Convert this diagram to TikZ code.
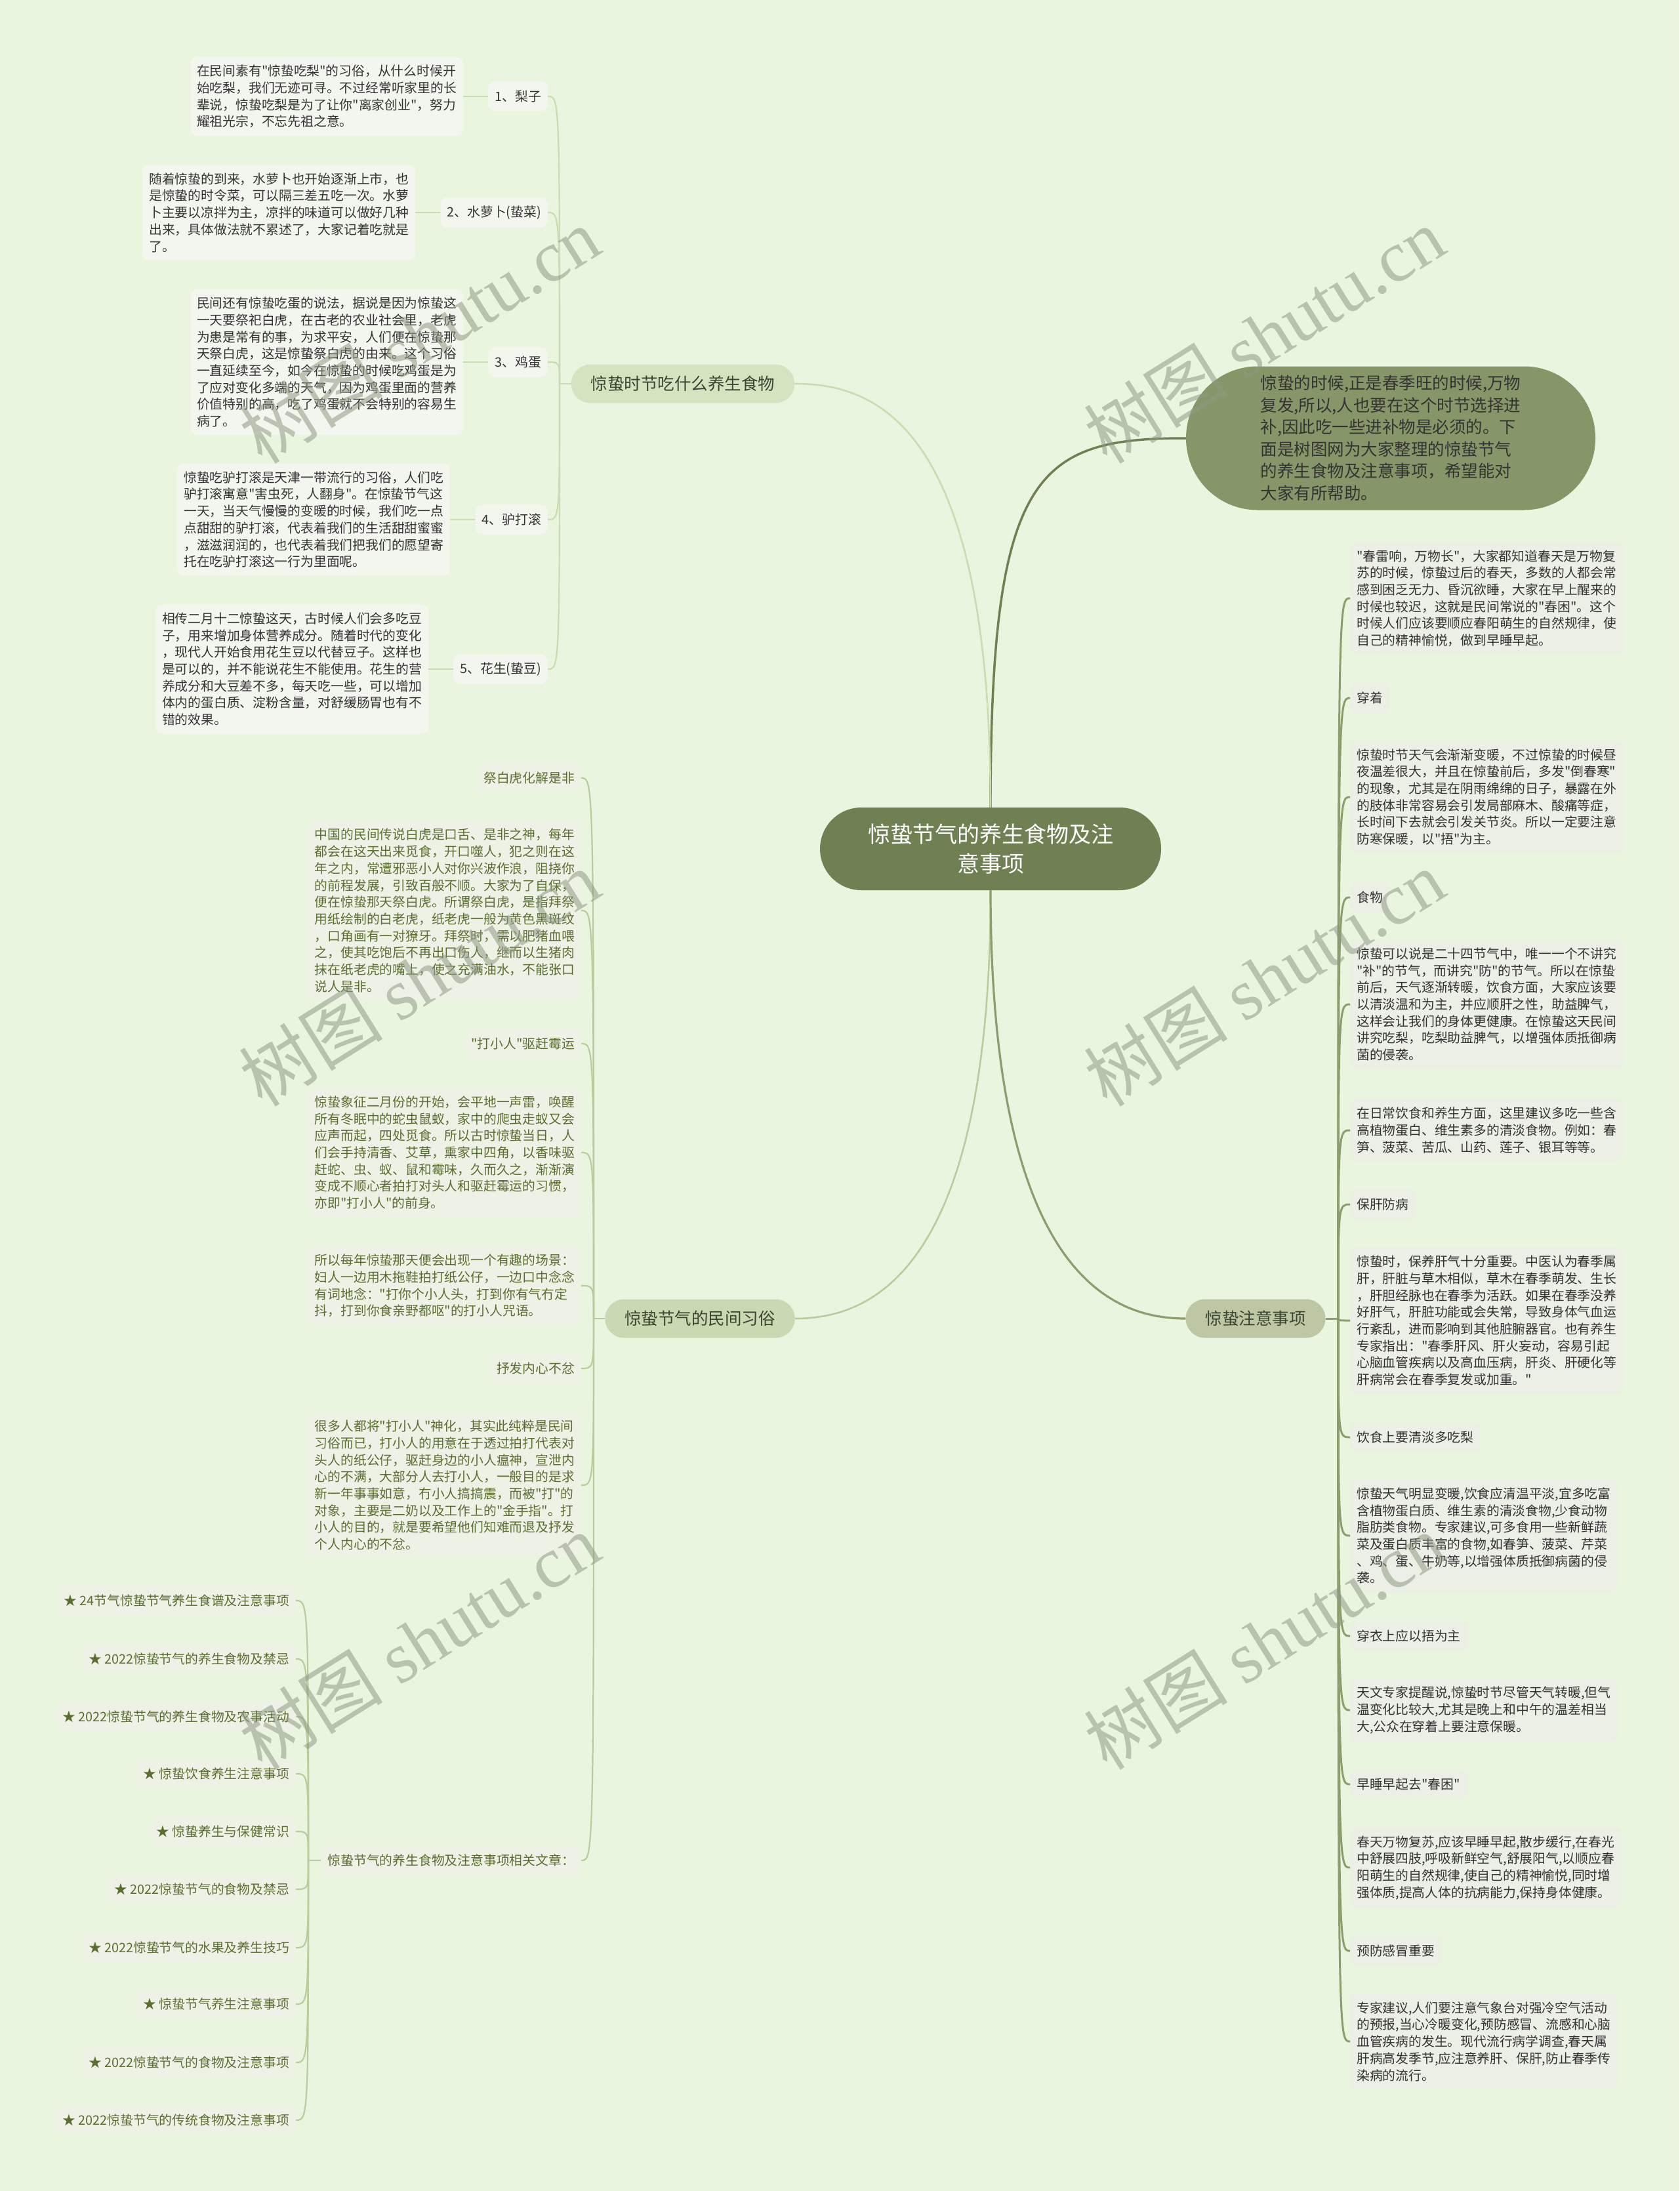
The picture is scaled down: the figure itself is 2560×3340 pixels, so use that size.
\documentclass[tikz,border=0pt]{standalone}
\usepackage{fontspec}
\setmainfont{Noto Sans CJK SC}[Ligatures=TeXOff]
\newfontfamily\wmlatin{Liberation Serif}
\usetikzlibrary{calc}
\definecolor{bgc}{HTML}{E9F5DE}
\definecolor{cnode}{HTML}{6F8053}
\definecolor{intro}{HTML}{879669}
\definecolor{brF}{HTML}{D4E3C0}
\definecolor{brC}{HTML}{CBD9B3}
\definecolor{brR}{HTML}{BDC7A4}
\definecolor{brtxt}{HTML}{3A4430}
\definecolor{leafL}{HTML}{F3F6EE}
\definecolor{leafC}{HTML}{EEF2E6}
\definecolor{leafR}{HTML}{ECEFE6}
\definecolor{txtD}{HTML}{333333}
\definecolor{txtO}{HTML}{5A6E30}
\definecolor{lnFc}{HTML}{CADCB2}
\definecolor{lnCc}{HTML}{B9CC9B}
\definecolor{lnRc}{HTML}{8D9D6E}
\definecolor{wmc}{HTML}{8F9A84}
\newcommand\fsmall{\fontsize{19.8pt}{25.7pt}\selectfont}
\newcommand\fbranch{\fontsize{25.5pt}{30pt}\selectfont}
\newcommand\fintro{\fontsize{25.5pt}{33.5pt}\selectfont}
\newcommand\fcenter{\fontsize{34pt}{45pt}\selectfont}
\newcommand\fwm{\fontsize{110pt}{110pt}\selectfont}
\tikzset{
  blk/.style={rounded corners=10pt, inner xsep=10pt, inner ysep=12pt, align=left, font=\fsmall},
  lbl/.style={rounded corners=10pt, inner xsep=10pt, inner ysep=0pt, minimum height=45pt, font=\fsmall},
  food/.style={fill=leafL, text=txtD},
  cust/.style={fill=leafC, text=txtO},
  rgt/.style={fill=leafR, text=txtD},
  branch/.style={rounded corners=29.5pt, inner xsep=30pt, inner ysep=0pt, minimum height=59pt, font=\fbranch, text=brtxt},
  lnF/.style={draw=lnFc, line width=2.2pt},
  lnC/.style={draw=lnCc, line width=2.2pt},
  lnR/.style={draw=lnRc, line width=3pt},
  wm/.style={text=wmc, opacity=0.55, font=\fwm, rotate=32, inner sep=0pt}
}
\begin{document}
\begin{tikzpicture}[x=1pt,y=-1pt]
\fill[bgc] (0,0) rectangle (2560,3340);
\useasboundingbox (0,0) rectangle (2560,3340);

% ---------- center and intro ----------
\node[fill=cnode, text=white, rounded corners=63pt, minimum width=520pt, minimum height=126pt, align=center, font=\fcenter, inner sep=0pt] (CN) at (1510,1294) {惊蛰节气的养生食物及注\\意事项};
\node[fill=intro, text=txtD, rounded corners=109pt, minimum width=624pt, minimum height=219pt, align=left, font=\fintro, inner sep=0pt] (IN) at (2120,668) {惊蛰的时候,正是春季旺的时候,万物\\复发,所以,人也要在这个时节选择进\\补,因此吃一些进补物是必须的。下\\面是树图网为大家整理的惊蛰节气\\的养生食物及注意事项，希望能对\\大家有所帮助。};

% ---------- branch nodes ----------
\node[branch, fill=brF] (BF) at (1041,585) {惊蛰时节吃什么养生食物};
\node[branch, fill=brC] (BC) at (1067,2010) {惊蛰节气的民间习俗};
\node[branch, fill=brR] (BR) at (1914,2010) {惊蛰注意事项};

% ---------- food items ----------
\node[lbl, food, anchor=east] (I1) at (835,147) {1、梨子};
\node[lbl, food, anchor=east] (I2) at (835,324) {2、水萝卜(蛰菜)};
\node[lbl, food, anchor=east] (I3) at (835,552) {3、鸡蛋};
\node[lbl, food, anchor=east] (I4) at (835,792) {4、驴打滚};
\node[lbl, food, anchor=east] (I5) at (835,1020) {5、花生(蛰豆)};

\node[blk, food, anchor=east] (B1) at ([xshift=-38pt]I1.west) {在民间素有"惊蛰吃梨"的习俗，从什么时候开\\始吃梨，我们无迹可寻。不过经常听家里的长\\辈说，惊蛰吃梨是为了让你"离家创业"，努力\\耀祖光宗，不忘先祖之意。};
\node[blk, food, anchor=east] (B2) at ([xshift=-38pt]I2.west) {随着惊蛰的到来，水萝卜也开始逐渐上市，也\\是惊蛰的时令菜，可以隔三差五吃一次。水萝\\卜主要以凉拌为主，凉拌的味道可以做好几种\\出来，具体做法就不累述了，大家记着吃就是\\了。};
\node[blk, food, anchor=east] (B3) at ([xshift=-38pt]I3.west) {民间还有惊蛰吃蛋的说法，据说是因为惊蛰这\\一天要祭祀白虎，在古老的农业社会里，老虎\\为患是常有的事，为求平安，人们便在惊蛰那\\天祭白虎，这是惊蛰祭白虎的由来。这个习俗\\一直延续至今，如今在惊蛰的时候吃鸡蛋是为\\了应对变化多端的天气，因为鸡蛋里面的营养\\价值特别的高，吃了鸡蛋就不会特别的容易生\\病了。};
\node[blk, food, anchor=east] (B4) at ([xshift=-38pt]I4.west) {惊蛰吃驴打滚是天津一带流行的习俗，人们吃\\驴打滚寓意"害虫死，人翻身"。在惊蛰节气这\\一天，当天气慢慢的变暖的时候，我们吃一点\\点甜甜的驴打滚，代表着我们的生活甜甜蜜蜜\\，滋滋润润的，也代表着我们把我们的愿望寄\\托在吃驴打滚这一行为里面呢。};
\node[blk, food, anchor=east] (B5) at ([xshift=-38pt]I5.west) {相传二月十二惊蛰这天，古时候人们会多吃豆\\子，用来增加身体营养成分。随着时代的变化\\，现代人开始食用花生豆以代替豆子。这样也\\是可以的，并不能说花生不能使用。花生的营\\养成分和大豆差不多，每天吃一些，可以增加\\体内的蛋白质、淀粉含量，对舒缓肠胃也有不\\错的效果。};

% ---------- customs ----------
\node[lbl, cust, anchor=east] (C1) at (886,1186) {祭白虎化解是非};
\node[blk, cust, anchor=east] (C2) at (886,1388) {中国的民间传说白虎是口舌、是非之神，每年\\都会在这天出来觅食，开口噬人，犯之则在这\\年之内，常遭邪恶小人对你兴波作浪，阻挠你\\的前程发展，引致百般不顺。大家为了自保，\\便在惊蛰那天祭白虎。所谓祭白虎，是指拜祭\\用纸绘制的白老虎，纸老虎一般为黄色黑斑纹\\，口角画有一对獠牙。拜祭时，需以肥猪血喂\\之，使其吃饱后不再出口伤人，继而以生猪肉\\抹在纸老虎的嘴上，使之充满油水，不能张口\\说人是非。};
\node[lbl, cust, anchor=east] (C3) at (886,1591) {"打小人"驱赶霉运};
\node[blk, cust, anchor=east] (C4) at (886,1757) {惊蛰象征二月份的开始，会平地一声雷，唤醒\\所有冬眠中的蛇虫鼠蚁，家中的爬虫走蚁又会\\应声而起，四处觅食。所以古时惊蛰当日，人\\们会手持清香、艾草，熏家中四角，以香味驱\\赶蛇、虫、蚁、鼠和霉味，久而久之，渐渐演\\变成不顺心者拍打对头人和驱赶霉运的习惯，\\亦即"打小人"的前身。};
\node[blk, cust, anchor=east] (C5) at (886,1960) {所以每年惊蛰那天便会出现一个有趣的场景：\\妇人一边用木拖鞋拍打纸公仔，一边口中念念\\有词地念："打你个小人头，打到你有气冇定\\抖，打到你食亲野都呕"的打小人咒语。};
\node[lbl, cust, anchor=east] (C6) at (886,2086) {抒发内心不忿};
\node[blk, cust, anchor=east] (C7) at (886,2264) {很多人都将"打小人"神化，其实此纯粹是民间\\习俗而已，打小人的用意在于透过拍打代表对\\头人的纸公仔，驱赶身边的小人瘟神，宣泄内\\心的不满，大部分人去打小人，一般目的是求\\新一年事事如意，冇小人搞搞震，而被"打"的\\对象，主要是二奶以及工作上的"金手指"。打\\小人的目的，就是要希望他们知难而退及抒发\\个人内心的不忿。};
\node[lbl, cust, anchor=east] (C8) at (886,2836) {惊蛰节气的养生食物及注意事项相关文章：};

% ---------- related articles ----------
\node[lbl, cust, anchor=east, minimum height=44pt] (A1) at (451,2440) {★ 24节气惊蛰节气养生食谱及注意事项};
\node[lbl, cust, anchor=east, minimum height=44pt] (A2) at (451,2529) {★ 2022惊蛰节气的养生食物及禁忌};
\node[lbl, cust, anchor=east, minimum height=44pt] (A3) at (451,2617) {★ 2022惊蛰节气的养生食物及农事活动};
\node[lbl, cust, anchor=east, minimum height=44pt] (A4) at (451,2704) {★ 惊蛰饮食养生注意事项};
\node[lbl, cust, anchor=east, minimum height=44pt] (A5) at (451,2792) {★ 惊蛰养生与保健常识};
\node[lbl, cust, anchor=east, minimum height=44pt] (A6) at (451,2880) {★ 2022惊蛰节气的食物及禁忌};
\node[lbl, cust, anchor=east, minimum height=44pt] (A7) at (451,2969) {★ 2022惊蛰节气的水果及养生技巧};
\node[lbl, cust, anchor=east, minimum height=44pt] (A8) at (451,3055) {★ 惊蛰节气养生注意事项};
\node[lbl, cust, anchor=east, minimum height=44pt] (A9) at (451,3144) {★ 2022惊蛰节气的食物及注意事项};
\node[lbl, cust, anchor=east, minimum height=44pt] (A10) at (451,3232) {★ 2022惊蛰节气的传统食物及注意事项};

% ---------- right side ----------
\node[blk, rgt, anchor=west] (R1) at (2058,912) {"春雷响，万物长"，大家都知道春天是万物复\\苏的时候，惊蛰过后的春天，多数的人都会常\\感到困乏无力、昏沉欲睡，大家在早上醒来的\\时候也较迟，这就是民间常说的"春困"。这个\\时候人们应该要顺应春阳萌生的自然规律，使\\自己的精神愉悦，做到早睡早起。};
\node[lbl, rgt, anchor=west] (R2) at (2058,1064) {穿着};
\node[blk, rgt, anchor=west] (R3) at (2058,1215) {惊蛰时节天气会渐渐变暖，不过惊蛰的时候昼\\夜温差很大，并且在惊蛰前后，多发"倒春寒"\\的现象，尤其是在阴雨绵绵的日子，暴露在外\\的肢体非常容易会引发局部麻木、酸痛等症，\\长时间下去就会引发关节炎。所以一定要注意\\防寒保暖，以"捂"为主。};
\node[lbl, rgt, anchor=west] (R4) at (2058,1368) {食物};
\node[blk, rgt, anchor=west] (R5) at (2058,1531) {惊蛰可以说是二十四节气中，唯一一个不讲究\\"补"的节气，而讲究"防"的节气。所以在惊蛰\\前后，天气逐渐转暖，饮食方面，大家应该要\\以清淡温和为主，并应顺肝之性，助益脾气，\\这样会让我们的身体更健康。在惊蛰这天民间\\讲究吃梨，吃梨助益脾气，以增强体质抵御病\\菌的侵袭。};
\node[blk, rgt, anchor=west] (R6) at (2058,1723) {在日常饮食和养生方面，这里建议多吃一些含\\高植物蛋白、维生素多的清淡食物。例如：春\\笋、菠菜、苦瓜、山药、莲子、银耳等等。};
\node[lbl, rgt, anchor=west] (R7) at (2058,1836) {保肝防病};
\node[blk, rgt, anchor=west] (R8) at (2058,2013) {惊蛰时，保养肝气十分重要。中医认为春季属\\肝，肝脏与草木相似，草木在春季萌发、生长\\，肝胆经脉也在春季为活跃。如果在春季没养\\好肝气，肝脏功能或会失常，导致身体气血运\\行紊乱，进而影响到其他脏腑器官。也有养生\\专家指出："春季肝风、肝火妄动，容易引起\\心脑血管疾病以及高血压病，肝炎、肝硬化等\\肝病常会在春季复发或加重。"};
\node[lbl, rgt, anchor=west] (R9) at (2058,2191) {饮食上要清淡多吃梨};
\node[blk, rgt, anchor=west] (R10) at (2058,2341) {惊蛰天气明显变暖,饮食应清温平淡,宜多吃富\\含植物蛋白质、维生素的清淡食物,少食动物\\脂肪类食物。专家建议,可多食用一些新鲜蔬\\菜及蛋白质丰富的食物,如春笋、菠菜、芹菜\\、鸡、蛋、牛奶等,以增强体质抵御病菌的侵\\袭。};
\node[lbl, rgt, anchor=west] (R11) at (2058,2494) {穿衣上应以捂为主};
\node[blk, rgt, anchor=west] (R12) at (2058,2607) {天文专家提醒说,惊蛰时节尽管天气转暖,但气\\温变化比较大,尤其是晚上和中午的温差相当\\大,公众在穿着上要注意保暖。};
\node[lbl, rgt, anchor=west] (R13) at (2058,2720) {早睡早起去"春困"};
\node[blk, rgt, anchor=west] (R14) at (2058,2847) {春天万物复苏,应该早睡早起,散步缓行,在春光\\中舒展四肢,呼吸新鲜空气,舒展阳气,以顺应春\\阳萌生的自然规律,使自己的精神愉悦,同时增\\强体质,提高人体的抗病能力,保持身体健康。};
\node[lbl, rgt, anchor=west] (R15) at (2058,2974) {预防感冒重要};
\node[blk, rgt, anchor=west] (R16) at (2058,3112) {专家建议,人们要注意气象台对强冷空气活动\\的预报,当心冷暖变化,预防感冒、流感和心脑\\血管疾病的发生。现代流行病学调查,春天属\\肝病高发季节,应注意养肝、保肝,防止春季传\\染病的流行。};

% ---------- main connectors ----------
\draw[draw=cnode, line width=3.5pt] (CN.north) .. controls (1510,720) and (1580,668) .. (IN.west);
\draw[lnF, line width=2.6pt] (CN.north) .. controls (1510,640) and (1330,585) .. (BF.east);
\draw[lnC, line width=2.6pt] (CN.south) .. controls (1510,1950) and (1320,2010) .. (BC.east);
\draw[lnR, line width=3.2pt] (CN.south) .. controls (1510,1950) and (1700,2010) .. (BR.west);

% ---------- food connectors ----------
\coordinate (JF) at (853,585);
\draw[lnF] (BF.west) -- (JF);
\foreach \n in {I1,I2,I3,I4,I5}
  \draw[lnF] (JF) .. controls (JF |- \n.east) and (JF |- \n.east) .. (\n.east);
\foreach \n in {1,...,5}
  \draw[lnF] (I\n.west) -- (B\n.east);

% ---------- customs connectors ----------
\coordinate (JC) at (905,2010);
\draw[lnC] (BC.west) -- (JC);
\foreach \n in {C1,C2,C3,C4,C5,C6,C7,C8}
  \draw[lnC] (JC) .. controls (JC |- \n.east) and (JC |- \n.east) .. (\n.east);

% ---------- related connectors ----------
\coordinate (JA) at (470,2836);
\draw[lnC] (C8.west) -- (JA);
\foreach \n in {A1,A2,A3,A4,A5,A6,A7,A8,A9,A10}
  \draw[lnC] (JA) .. controls (JA |- \n.east) and (JA |- \n.east) .. (\n.east);

% ---------- right connectors ----------
\coordinate (JR) at (2040,2010);
\draw[lnR] (BR.east) -- (JR);
\foreach \n in {R1,R2,R3,R4,R5,R6,R7,R8,R9,R10,R11,R12,R13,R14,R15,R16}
  \draw[lnR] (JR) .. controls (JR |- \n.west) and (JR |- \n.west) .. (\n.west);

% ---------- watermarks ----------
\node[wm] (W1) at (639,511) {树图 {\wmlatin shutu.cn}};
\node[wm] (W2) at (1927,511) {树图 {\wmlatin shutu.cn}};
\node[wm] (W3) at (639,1491) {树图 {\wmlatin shutu.cn}};
\node[wm] (W4) at (1927,1491) {树图 {\wmlatin shutu.cn}};
\node[wm] (W5) at (639,2502) {树图 {\wmlatin shutu.cn}};
\node[wm] (W6) at (1927,2502) {树图 {\wmlatin shutu.cn}};
\end{tikzpicture}
\end{document}
